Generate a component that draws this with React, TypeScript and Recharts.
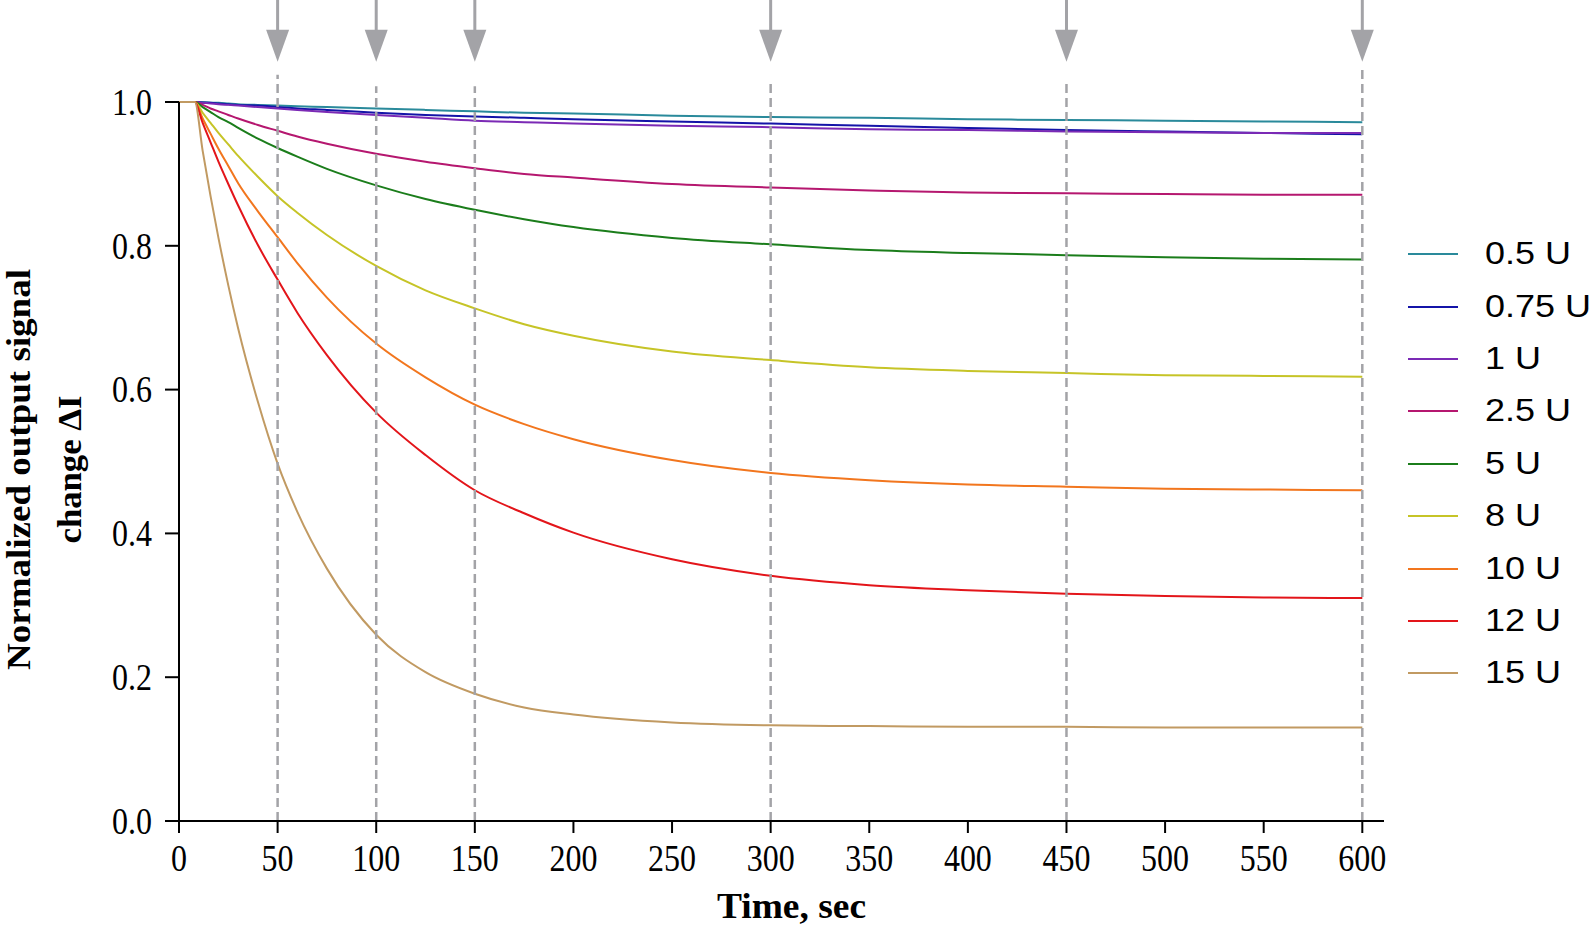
import React from 'react'
import { LineChart, Line, XAxis, YAxis, ReferenceLine, ReferenceDot, Legend, Label } from 'recharts'

const TIMES = [0, 8, 12, 16, 20, 25, 30, 40, 50, 60, 75, 100, 125, 150, 175, 200, 250, 300, 350, 400, 450, 500, 550, 600]

const U_0_5 = [1, 1, 1, 0.999, 0.999, 0.998, 0.997, 0.996, 0.995, 0.994, 0.993, 0.991, 0.989, 0.987, 0.985, 0.984, 0.981, 0.979, 0.978, 0.976, 0.975, 0.974, 0.973, 0.972]
const U_0_75 = [1, 1, 0.999, 0.999, 0.998, 0.997, 0.996, 0.995, 0.993, 0.991, 0.989, 0.985, 0.982, 0.98, 0.978, 0.976, 0.973, 0.97, 0.967, 0.964, 0.961, 0.959, 0.957, 0.955]
const U_1 = [1, 1, 0.999, 0.998, 0.997, 0.996, 0.995, 0.993, 0.991, 0.989, 0.986, 0.982, 0.978, 0.974, 0.972, 0.97, 0.967, 0.965, 0.962, 0.961, 0.959, 0.958, 0.957, 0.957]
const U_2_5 = [1, 1, 0.996, 0.991, 0.987, 0.982, 0.977, 0.968, 0.96, 0.952, 0.942, 0.928, 0.917, 0.908, 0.9, 0.895, 0.886, 0.881, 0.877, 0.874, 0.873, 0.872, 0.871, 0.871]
const U_5 = [1, 1, 0.993, 0.986, 0.979, 0.972, 0.964, 0.949, 0.936, 0.924, 0.907, 0.884, 0.865, 0.85, 0.837, 0.826, 0.811, 0.802, 0.794, 0.79, 0.787, 0.784, 0.782, 0.781]
const U_8 = [1, 1, 0.985, 0.971, 0.957, 0.941, 0.925, 0.896, 0.869, 0.846, 0.815, 0.772, 0.738, 0.713, 0.691, 0.675, 0.653, 0.641, 0.631, 0.626, 0.623, 0.62, 0.619, 0.618]
const U_10 = [1, 1, 0.977, 0.956, 0.935, 0.911, 0.887, 0.848, 0.812, 0.776, 0.728, 0.664, 0.617, 0.579, 0.552, 0.531, 0.502, 0.484, 0.474, 0.468, 0.465, 0.462, 0.461, 0.46]
const U_12 = [1, 1, 0.971, 0.944, 0.917, 0.886, 0.856, 0.801, 0.753, 0.707, 0.648, 0.568, 0.509, 0.46, 0.428, 0.401, 0.364, 0.341, 0.328, 0.321, 0.316, 0.313, 0.311, 0.31]
const U_15 = [1, 1, 0.932, 0.869, 0.811, 0.745, 0.685, 0.583, 0.497, 0.43, 0.351, 0.259, 0.207, 0.177, 0.158, 0.148, 0.137, 0.133, 0.132, 0.131, 0.131, 0.13, 0.13, 0.13]

const SERIES = [
  { key: 'u05', name: '0.5 U', color: '#2a8a9b', values: U_0_5 },
  { key: 'u075', name: '0.75 U', color: '#1414a8', values: U_0_75 },
  { key: 'u1', name: '1 U', color: '#7b2ab5', values: U_1 },
  { key: 'u25', name: '2.5 U', color: '#b5176f', values: U_2_5 },
  { key: 'u5', name: '5 U', color: '#1b7d1b', values: U_5 },
  { key: 'u8', name: '8 U', color: '#c6c427', values: U_8 },
  { key: 'u10', name: '10 U', color: '#f2761e', values: U_10 },
  { key: 'u12', name: '12 U', color: '#e3151a', values: U_12 },
  { key: 'u15', name: '15 U', color: '#c19a62', values: U_15 },
]

const X_TICKS = [0, 50, 100, 150, 200, 250, 300, 350, 400, 450, 500, 550, 600]
const Y_TICKS = [0, 0.2, 0.4, 0.6, 0.8, 1.0]

// arrows + dashed guides at the sampling times
const MARK_TIMES = [50, 100, 150, 300, 450, 600]
const MARK_TOPS = [1.038, 1.022, 1.022, 1.031, 1.031, 1.045]
const ARROW_TIP = 1.056

const data = TIMES.map((t, i) => {
  const row: Record<string, number> = { t }
  SERIES.forEach((s) => {
    row[s.key] = s.values[i]
  })
  return row
})

const SERIF = '"Liberation Serif", "Times New Roman", Times, serif'
const SANS = '"Liberation Sans", Arial, Helvetica, sans-serif'
const GUIDE = '#a3a3a7'

function XTick({ x, y, payload }: any) {
  return (
    <g transform={`translate(${x},${y}) scale(1,1.18)`}>
      <text x={0} y={0} dy="0.7em" textAnchor="middle" fontSize={32} fontFamily={SERIF} fill="#000">
        {payload.value}
      </text>
    </g>
  )
}

function YTick({ x, y, payload }: any) {
  return (
    <g transform={`translate(${x},${y}) scale(1,1.18)`}>
      <text x={0} y={0} dy="0.34em" textAnchor="end" fontSize={32} fontFamily={SERIF} fill="#000">
        {Number(payload.value).toFixed(1)}
      </text>
    </g>
  )
}

function YTitle(props: any) {
  const vb = props.viewBox || {}
  const cy = (vb.y ?? 102) + (vb.height ?? 719) / 2 + 8
  return (
    <text transform={`translate(0,${cy}) rotate(-90)`} textAnchor="middle" fontFamily={SERIF} fontWeight="bold" fontSize={33} fill="#000">
      <tspan x={0} y={30} textLength={401} lengthAdjust="spacingAndGlyphs">Normalized output signal</tspan>
      <tspan x={0} y={81} textLength={148} lengthAdjust="spacingAndGlyphs">change ΔI</tspan>
    </text>
  )
}

function XTitle(props: any) {
  const vb = props.viewBox || {}
  const cx = (vb.x ?? 179) + (vb.width ?? 1205) / 2 + 10
  return (
    <text x={cx} y={918} textAnchor="middle" fontFamily={SERIF} fontWeight="bold" fontSize={36} fill="#000" textLength={149} lengthAdjust="spacingAndGlyphs">
      Time, sec
    </text>
  )
}

function DownArrow({ cx, cy }: { cx?: number; cy?: number }) {
  if (cx == null || cy == null) return <g />
  return (
    <g>
      <line x1={cx} x2={cx} y1={cy - 64} y2={cy - 30} stroke={GUIDE} strokeWidth={3} />
      <path d={`M${cx - 11.5},${cy - 32} L${cx + 11.5},${cy - 32} L${cx},${cy} Z`} fill={GUIDE} />
    </g>
  )
}

function LegendList() {
  return (
    <div style={{ fontFamily: SANS, fontSize: 31, color: '#000' }}>
      {SERIES.map((s) => (
        <div key={s.key} style={{ display: 'flex', alignItems: 'center', height: 52.4, whiteSpace: 'nowrap' }}>
          <span style={{ display: 'inline-block', width: 50, height: 2, background: s.color, marginRight: 27 }} />
          <span style={{ display: 'inline-block', transform: 'scaleX(1.16)', transformOrigin: 'left center' }}>{s.name}</span>
        </div>
      ))}
    </div>
  )
}

export default function App() {
  return (
    <div style={{ position: 'absolute', left: 0, top: 0, width: 1591, height: 928, overflow: 'hidden', background: '#fff' }}>
      <LineChart width={1591} height={928} data={data} margin={{ top: 102, right: 207, bottom: 0, left: 0 }}>
        <XAxis
          dataKey="t"
          type="number"
          domain={[0, 611]}
          ticks={X_TICKS}
          interval={0}
          height={107}
          tickSize={12}
          tickMargin={12}
          tick={(p: any) => <XTick {...p} />}
          axisLine={{ stroke: '#000', strokeWidth: 2 }}
          tickLine={{ stroke: '#000', strokeWidth: 2 }}
        >
          <Label content={XTitle} />
        </XAxis>
        <YAxis
          type="number"
          domain={[0, 1]}
          ticks={Y_TICKS}
          interval={0}
          width={179}
          tickSize={14}
          tickMargin={13}
          tick={(p: any) => <YTick {...p} />}
          axisLine={{ stroke: '#000', strokeWidth: 2 }}
          tickLine={{ stroke: '#000', strokeWidth: 2 }}
        >
          <Label content={YTitle} />
        </YAxis>
        <Legend layout="vertical" align="center" verticalAlign="middle" content={<LegendList />} wrapperStyle={{ left: 1408, top: 228, width: 200 }} />
        {SERIES.map((s) => (
          <Line
            key={s.key}
            type="monotone"
            dataKey={s.key}
            name={s.name}
            stroke={s.color}
            strokeWidth={2}
            dot={false}
            isAnimationActive={false}
          />
        ))}
        {MARK_TIMES.map((t, i) => (
          <ReferenceLine
            key={`g${t}`}
            segment={[{ x: t, y: 0 }, { x: t, y: MARK_TOPS[i] }]}
            stroke={GUIDE}
            strokeWidth={2.5}
            strokeDasharray="9 5"
            ifOverflow="visible"
          />
        ))}
        {MARK_TIMES.map((t) => (
          <ReferenceDot key={`a${t}`} x={t} y={ARROW_TIP} r={0} ifOverflow="visible" shape={(p: any) => <DownArrow cx={p.cx} cy={p.cy} />} />
        ))}
      </LineChart>
    </div>
  )
}
